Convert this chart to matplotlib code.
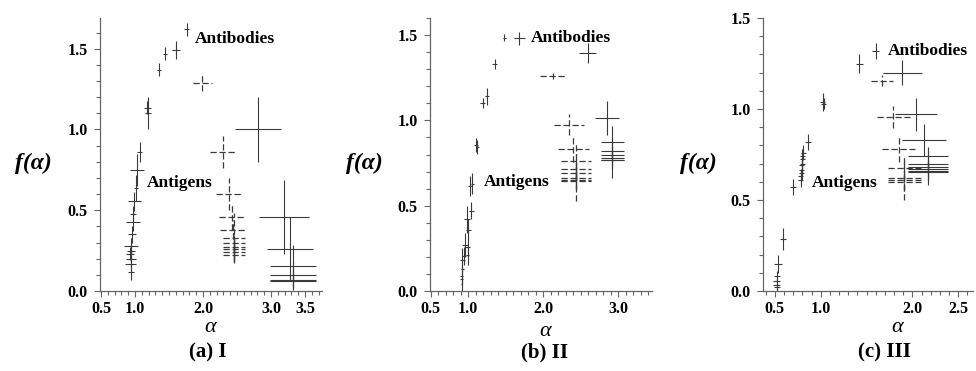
import numpy as np
import matplotlib
matplotlib.use("Agg")
import matplotlib.pyplot as plt
from matplotlib.ticker import MultipleLocator, FixedLocator, FixedFormatter

plt.rcParams["font.family"] = ["Liberation Serif", "DejaVu Serif"]

# ===================== data =====================
# panel (a) I : solid crosses
a_sol_x = [1.07, 1.03, 1.18, 1.19, 1.35, 1.44, 1.60, 1.76, 2.81, 3.19, 3.28, 3.32, 3.32, 3.32, 3.32,
           1.01, 0.99, 0.97, 0.97, 0.95, 0.94, 0.94, 0.94, 0.94, 0.94, 0.93]
a_sol_y = [0.86, 0.75, 1.135, 1.10, 1.37, 1.47, 1.49, 1.62, 1.00, 0.46, 0.26, 0.155, 0.10, 0.068, 0.06,
           0.64, 0.555, 0.475, 0.43, 0.35, 0.28, 0.25, 0.20, 0.165, 0.12, 0.23]
a_sol_xerr = [0.04, 0.10, 0.05, 0.05, 0.03, 0.03, 0.06, 0.04, 0.34, 0.37, 0.34, 0.34, 0.34, 0.34, 0.34,
              0.03, 0.10, 0.04, 0.10, 0.06, 0.10, 0.06, 0.07, 0.08, 0.05, 0.06]
a_sol_yerr = [0.06, 0.10, 0.04, 0.10, 0.04, 0.04, 0.055, 0.04, 0.20, 0.23, 0.20, 0.13, 0.08, 0.06, 0.05,
              0.08, 0.06, 0.05, 0.06, 0.05, 0.05, 0.05, 0.05, 0.05, 0.05, 0.04]
# panel (a) I : dashed crosses
a_dash_x = [1.99, 2.29, 2.38, 2.43, 2.44, 2.46, 2.46, 2.46, 2.46, 2.46, 2.46]
a_dash_y = [1.29, 0.86, 0.60, 0.46, 0.38, 0.33, 0.295, 0.275, 0.26, 0.24, 0.225]
a_dash_xerr = [0.14, 0.18, 0.19, 0.19, 0.19, 0.16, 0.16, 0.16, 0.16, 0.16, 0.16]
a_dash_yerr = [0.05, 0.10, 0.10, 0.08, 0.06, 0.15, 0.05, 0.05, 0.05, 0.05, 0.05]

# panel (b) II
b_sol_x = [1.48, 1.68, 1.35, 1.25, 1.19, 1.10, 1.12, 1.02, 1.05, 1.04, 0.98, 1.00, 0.96, 0.99,
           0.94, 0.99, 0.92, 0.92, 0.91, 0.91, 0.91,
           2.59, 2.85, 2.92, 2.92, 2.92, 2.92, 2.92, 2.92]
b_sol_y = [1.485, 1.48, 1.33, 1.14, 1.10, 0.855, 0.845, 0.615, 0.63, 0.47, 0.42, 0.36, 0.27, 0.26,
           0.205, 0.21, 0.18, 0.13, 0.09, 0.07, 0.04,
           1.395, 1.015, 0.875, 0.82, 0.80, 0.78, 0.77, 0.765]
b_sol_xerr = [0.02, 0.07, 0.03, 0.03, 0.03, 0.03, 0.02, 0.03, 0.02, 0.03, 0.04, 0.03, 0.04, 0.03,
              0.03, 0.02, 0.03, 0.02, 0.02, 0.02, 0.01,
              0.11, 0.16, 0.155, 0.155, 0.155, 0.155, 0.155, 0.155]
b_sol_yerr = [0.02, 0.04, 0.03, 0.05, 0.03, 0.04, 0.04, 0.06, 0.06, 0.05, 0.08, 0.06, 0.07, 0.06,
              0.05, 0.06, 0.07, 0.05, 0.05, 0.04, 0.04,
              0.06, 0.10, 0.09, 0.05, 0.05, 0.12, 0.05, 0.05]
b_dash_x = [2.13, 2.34, 2.40, 2.44, 2.44, 2.44, 2.44, 2.44, 2.44]
b_dash_y = [1.26, 0.975, 0.835, 0.76, 0.715, 0.69, 0.665, 0.65, 0.645]
b_dash_xerr = [0.17, 0.20, 0.21, 0.20, 0.20, 0.20, 0.20, 0.20, 0.20]
b_dash_yerr = [0.02, 0.06, 0.08, 0.10, 0.05, 0.05, 0.14, 0.05, 0.05]

# panel (c) III
c_sol_x = [0.52, 0.52, 0.52, 0.52, 0.53, 0.59, 0.70,
           0.78, 0.78, 0.79, 0.79, 0.79, 0.80, 0.80, 0.80, 0.81,
           0.86, 1.02, 1.03, 1.42, 1.60, 1.89, 2.04, 2.13, 2.17, 2.17, 2.17, 2.17, 2.17, 2.17]
c_sol_y = [0.08, 0.055, 0.033, 0.022, 0.15, 0.285, 0.57,
           0.61, 0.63, 0.65, 0.665, 0.69, 0.70, 0.725, 0.74, 0.76,
           0.82, 1.04, 1.03, 1.25, 1.32, 1.20, 0.97, 0.83, 0.74, 0.70, 0.68, 0.67, 0.66, 0.655]
c_sol_xerr = [0.03, 0.04, 0.04, 0.03, 0.045, 0.035, 0.035,
              0.03, 0.03, 0.03, 0.03, 0.03, 0.03, 0.03, 0.03, 0.03,
              0.03, 0.03, 0.03, 0.04, 0.04, 0.21, 0.23, 0.24, 0.22, 0.22, 0.22, 0.22, 0.22, 0.22]
c_sol_yerr = [0.03, 0.03, 0.03, 0.02, 0.05, 0.06, 0.045,
              0.04, 0.04, 0.04, 0.04, 0.04, 0.04, 0.04, 0.04, 0.04,
              0.045, 0.05, 0.03, 0.05, 0.045, 0.07, 0.09, 0.09, 0.05, 0.05, 0.10, 0.05, 0.05, 0.05]
c_dash_x = [1.67, 1.79, 1.85, 1.91, 1.91, 1.91, 1.91]
c_dash_y = [1.155, 0.955, 0.78, 0.675, 0.62, 0.61, 0.60]
c_dash_xerr = [0.12, 0.18, 0.18, 0.18, 0.18, 0.18, 0.18]
c_dash_yerr = [0.03, 0.06, 0.07, 0.05, 0.12, 0.05, 0.05]

# axis settings per panel
xlims = [(0.485, 3.75), (0.49, 3.45), (0.37, 2.66)]
ylims = [(0, 1.69), (0, 1.60), (0, 1.50)]
xtick_vals = [[0.5, 1.0, 2.0, 3.0, 3.5], [0.5, 1.0, 2.0, 3.0], [0.5, 1.0, 2.0, 2.5]]
ytick_vals = [0.0, 0.5, 1.0, 1.5]
sub_titles = ["(a) I", "(b) II", "(c) III"]
# text label positions (data coords)
antibody_pos = [(1.88, 1.56), (1.84, 1.485), (1.73, 1.32)]
antigen_pos = [(1.18, 0.67), (1.21, 0.64), (0.90, 0.595)]

panels = [
    (a_sol_x, a_sol_y, a_sol_xerr, a_sol_yerr, a_dash_x, a_dash_y, a_dash_xerr, a_dash_yerr),
    (b_sol_x, b_sol_y, b_sol_xerr, b_sol_yerr, b_dash_x, b_dash_y, b_dash_xerr, b_dash_yerr),
    (c_sol_x, c_sol_y, c_sol_xerr, c_sol_yerr, c_dash_x, c_dash_y, c_dash_xerr, c_dash_yerr),
]

# ===================== layout (pixels -> figure fraction) =====================
W, H = 976, 371
ax_px = [(100, 322), (430, 652), (763, 973)]
ax_bottom, ax_top = 291, 18
ylab_x = [33, 364, 698]
alpha_x = [210, 545, 897]
alpha_y = [327, 332, 327]
sub_x = [208, 545, 885]

fig = plt.figure(figsize=(W / 100, H / 100), dpi=100)
line_col = "#3a3a3a"

for i, p in enumerate(panels):
    l, r = ax_px[i]
    ax = fig.add_axes([l / W, (H - ax_bottom) / H, (r - l) / W, (ax_bottom - ax_top) / H])
    sx, sy, sxe, sye, dx, dy, dxe, dye = p

    ax.errorbar(sx, sy, xerr=sxe, yerr=sye, fmt="none", ecolor=line_col, elinewidth=0.8, capsize=0)
    eb = ax.errorbar(dx, dy, xerr=dxe, yerr=dye, fmt="none", ecolor=line_col, elinewidth=0.9, capsize=0)
    for c in eb[2]:
        c.set_linestyle((0, (5, 2.2)))

    ax.set_xlim(*xlims[i])
    ax.set_ylim(*ylims[i])
    for s in ["top", "right"]:
        ax.spines[s].set_visible(False)
    for s in ["left", "bottom"]:
        ax.spines[s].set_color("#666666")
        ax.spines[s].set_linewidth(0.9)

    ax.xaxis.set_major_locator(FixedLocator(xtick_vals[i]))
    ax.xaxis.set_major_formatter(FixedFormatter(["%.1f" % v for v in xtick_vals[i]]))
    ax.xaxis.set_minor_locator(MultipleLocator(0.1))
    ax.yaxis.set_major_locator(FixedLocator(ytick_vals))
    ax.yaxis.set_major_formatter(FixedFormatter(["%.1f" % v for v in ytick_vals]))
    ax.yaxis.set_minor_locator(MultipleLocator(0.1))
    ax.tick_params(which="both", direction="out", color="#666666", width=0.8)
    ax.tick_params(which="major", length=4)
    ax.tick_params(which="minor", length=3)
    ax.tick_params(axis="x", pad=3)
    ax.tick_params(axis="y", pad=5)
    for lab in ax.get_xticklabels() + ax.get_yticklabels():
        lab.set_fontweight("bold")
        lab.set_fontsize(11.5)

    ax.text(antibody_pos[i][0], antibody_pos[i][1], "Antibodies", fontsize=12.5,
            fontweight="bold", va="center", ha="left")
    ax.text(antigen_pos[i][0], antigen_pos[i][1], "Antigens", fontsize=12.5,
            fontweight="bold", va="center", ha="left")

    fig.text(ylab_x[i] / W, 1 - 163 / H, "f(α)", fontsize=17, fontweight="bold",
             fontstyle="italic", ha="center", va="center")
    fig.text(alpha_x[i] / W, 1 - alpha_y[i] / H, "α", fontsize=16, fontstyle="italic",
             ha="center", va="center")
    fig.text(sub_x[i] / W, 1 - 352 / H, sub_titles[i], fontsize=15, fontweight="bold",
             ha="center", va="center")

plt.savefig("out.png", dpi=100)
